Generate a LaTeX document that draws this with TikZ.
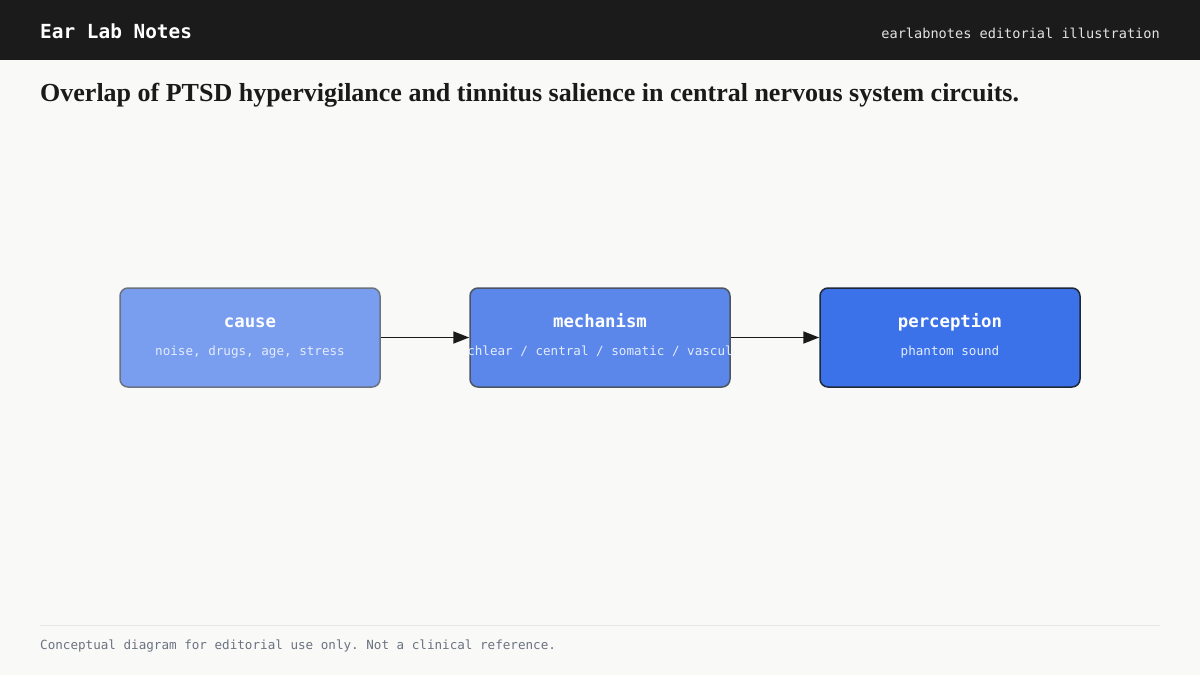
\documentclass[tikz,border=0pt]{standalone}
\usepackage{fontspec}
\setmainfont{Liberation Serif}
\setmonofont{DejaVu Sans Mono}
\usetikzlibrary{arrows.meta}
\definecolor{bgc}{HTML}{F9F9F8}
\definecolor{hdr}{HTML}{1B1B1B}
\definecolor{hdrtxt}{HTML}{E2E2E2}
\definecolor{ttl}{HTML}{1A1A1A}
\definecolor{causefill}{HTML}{7A9EEF}
\definecolor{causeedge}{HTML}{6B7280}
\definecolor{mechfill}{HTML}{5B87EB}
\definecolor{mechedge}{HTML}{4B5563}
\definecolor{percfill}{HTML}{3B72E9}
\definecolor{percedge}{HTML}{1F2937}
\definecolor{subtxt}{HTML}{E4ECFE}
\definecolor{foot}{HTML}{6B7280}
\definecolor{footline}{HTML}{E7E7E7}
\definecolor{arr}{HTML}{1A1A1A}
\tikzset{
  box/.style={rounded corners=8pt, line width=1.5pt, minimum width=260pt, minimum height=99pt, inner sep=0pt},
  boxtitle/.style={text=white, font=\ttfamily\bfseries\fontsize{17.3}{20}\selectfont, inner sep=0pt, anchor=base},
  boxsub/.style={text=subtxt, font=\ttfamily\fontsize{12.6}{15}\selectfont, inner sep=0pt, anchor=base},
  conn/.style={draw=arr, line width=1.8pt, -{Triangle[length=16pt,width=12pt]}},
}
\begin{document}
\begin{tikzpicture}[x=1pt,y=-1pt]
\useasboundingbox (0,0) rectangle (1200,675);
\fill[bgc] (0,0) rectangle (1200,675);
\fill[hdr] (0,0) rectangle (1200,60);
\node[anchor=base west, inner sep=0pt, text=white, font=\ttfamily\bfseries\fontsize{19.4}{22}\selectfont] (brand) at (40,38) {Ear Lab Notes};
\node[anchor=base east, inner sep=0pt, text=hdrtxt, font=\ttfamily\fontsize{13.6}{16}\selectfont] (tag) at (1160,38) {earlabnotes editorial illustration};
\node[anchor=base west, inner sep=0pt, text=ttl, font=\bfseries\fontsize{26}{30}\selectfont] (title) at (40,101) {Overlap of PTSD hypervigilance and tinnitus salience in central nervous system circuits.};

\node[box, fill=causefill, draw=causeedge] (cause) at (250,337.5) {};
\node[box, fill=mechfill, draw=mechedge] (mech) at (600,337.5) {};
\node[box, fill=percfill, draw=percedge] (perc) at (950,337.5) {};

\node[boxtitle] (causet) at (250,327.5) {cause};
\node[boxsub] (causes) at (250,355.5) {noise, drugs, age, stress};
\node[boxtitle] (mecht) at (600,327.5) {mechanism};
\begin{scope}
\clip (467,300) rectangle (733,370);
\node[boxsub] (mechs) at (600,355.5) {cochlear / central / somatic / vascular};
\end{scope}
\node[boxtitle] (perct) at (950,327.5) {perception};
\node[boxsub] (percs) at (950,355.5) {phantom sound};

\draw[conn] (cause.east) -- (mech.west);
\draw[conn] (mech.east) -- (perc.west);

\draw[footline, line width=1pt] (40,625) -- (1160,625);
\node[anchor=base west, inner sep=0pt, text=foot, font=\ttfamily\fontsize{12.6}{15}\selectfont] (note) at (40,649.5) {Conceptual diagram for editorial use only. Not a clinical reference.};
\end{tikzpicture}
\end{document}
